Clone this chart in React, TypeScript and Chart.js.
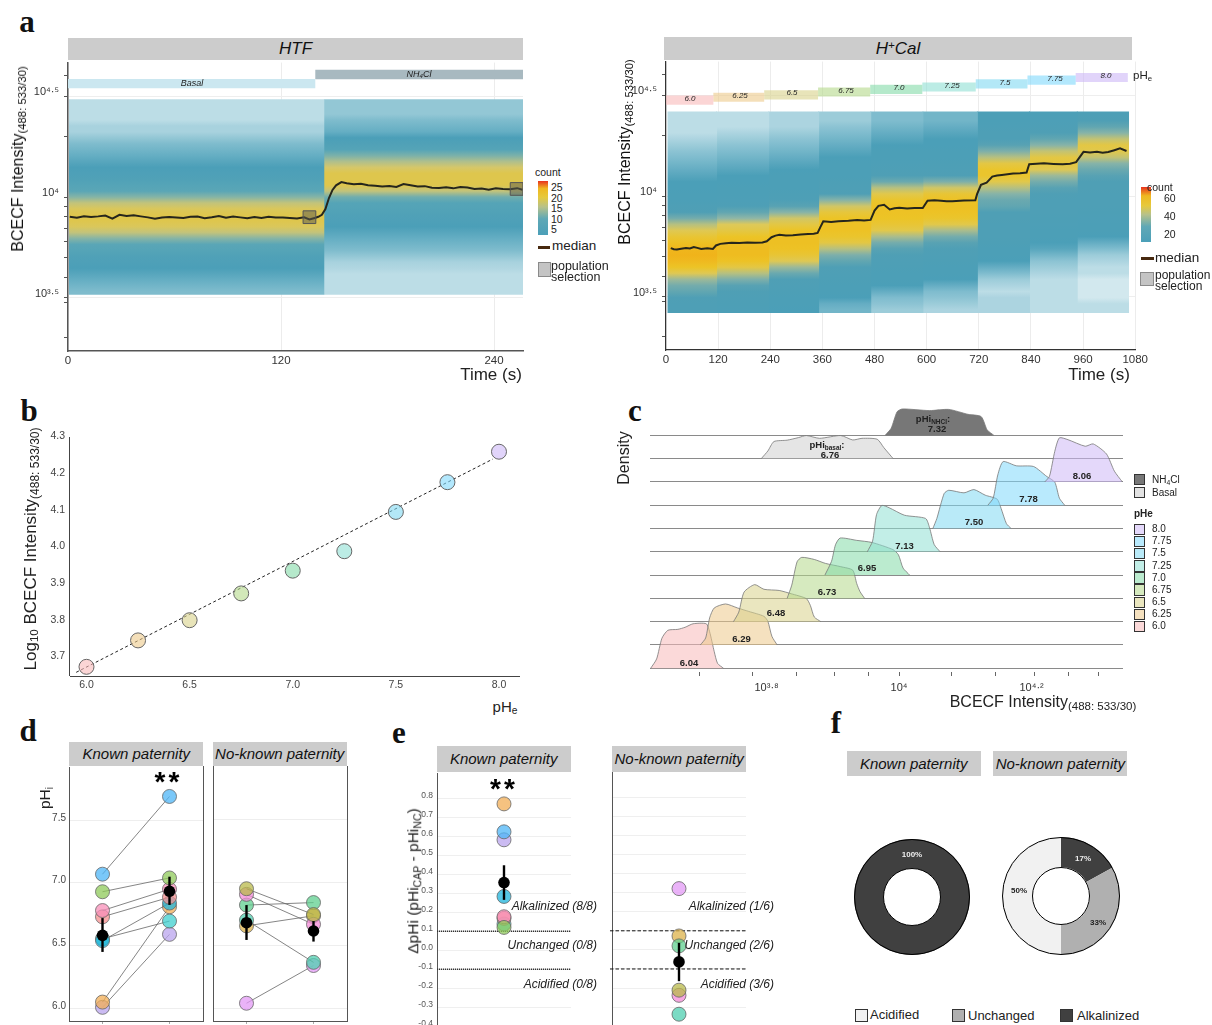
import React, { useEffect, useRef } from "react";
import { Chart, registerables } from "chart.js";

Chart.register(...registerables);

const SANS = '"Liberation Sans", Arial, sans-serif';

// ---------- panel a: HTF ----------
const htfColumnEdges = [0.5, 144, 256.3];
const htfBinRange = [3.515, 4.485];
const htfBasalCounts = [3, 3.5, 4, 4.5, 5, 5.5, 6, 7, 8, 10, 13, 15, 16, 16, 15, 13, 10, 8, 7, 6, 5.5, 5, 4.5, 4, 3.5, 3, 2.5, 2, 2, 1.5, 1.5, 1.5, 1.5];
const htfNh4clCounts = [1.5, 1.5, 1.5, 1.5, 1.8, 2, 2.5, 3, 3.5, 4, 4.5, 5, 5.5, 6, 6.5, 7, 9, 13, 16, 16, 16, 14, 12, 9.5, 7, 6, 5, 4, 3.5, 3, 2.5, 2.5, 2.5];
const htfMedianTimes = [1, 5, 9, 13, 17, 21, 25, 29, 33, 37, 41, 45, 49, 53, 57, 61, 65, 69, 73, 77, 81, 85, 89, 93, 97, 101, 105, 109, 113, 117, 121, 125, 129, 133, 136, 139, 141, 143, 145, 147, 149, 151, 154, 157, 161, 165, 169, 173, 177, 181, 185, 189, 193, 197, 201, 205, 209, 213, 217, 221, 225, 229, 233, 237, 241, 245, 249, 253, 256];
const htfMedianValues = [3.902, 3.897, 3.905, 3.901, 3.904, 3.908, 3.893, 3.912, 3.906, 3.909, 3.904, 3.899, 3.892, 3.898, 3.901, 3.899, 3.896, 3.902, 3.903, 3.895, 3.9, 3.906, 3.897, 3.903, 3.899, 3.895, 3.901, 3.896, 3.902, 3.898, 3.899, 3.896, 3.893, 3.899, 3.889, 3.896, 3.902, 3.912, 3.94, 3.995, 4.035, 4.058, 4.074, 4.068, 4.063, 4.066, 4.058, 4.056, 4.052, 4.055, 4.05, 4.064, 4.058, 4.052, 4.054, 4.046, 4.045, 4.048, 4.043, 4.05, 4.047, 4.04, 4.042, 4.036, 4.044, 4.04, 4.039, 4.044, 4.036];
const htfSelectionTimes = [136, 252.7];
const htfSelectionValues = [3.9, 4.04];

// ---------- panel a: H+Cal ----------
const calColumnEdges = [3, 115, 235, 350, 470, 590, 715, 835, 945, 1066];
const calBinRange = [3.42, 4.42];
const calCounts60 = [18, 20, 22, 24, 26, 30, 36, 42, 47, 50, 48, 44, 40, 36, 32, 26, 22, 18, 15, 13, 12, 11, 10, 9, 8, 7, 6, 5, 4, 3, 3, 3, 3];
const calCounts625 = [16, 17, 19, 21, 23, 27, 32, 38, 43, 46, 46, 45, 42, 38, 35, 29, 24, 19, 16, 14, 13, 12, 11, 10, 9, 8, 7, 6, 5, 4, 3, 3, 3];
const calCounts65 = [11, 13, 15, 17, 19, 21, 25, 30, 36, 40, 43, 44, 44, 42, 38, 34, 28, 23, 19, 17, 15, 14, 13, 12, 10, 9, 8, 7, 6, 5, 4, 4, 4];
const calCounts675 = [8, 9, 11, 13, 15, 17, 19, 21, 24, 27, 32, 38, 41, 43, 43, 42, 39, 34, 28, 22, 19, 17, 15, 14, 13, 12, 10, 9, 8, 7, 6, 5, 5];
const calCounts70 = [5, 6, 7, 9, 11, 13, 15, 17, 19, 21, 23, 26, 31, 37, 40, 42, 43, 43, 41, 37, 32, 25, 21, 18, 16, 14, 13, 11, 10, 9, 8, 7, 7];
const calCounts725 = [4, 5, 6, 7, 9, 11, 13, 15, 17, 19, 21, 23, 26, 31, 37, 41, 43, 44, 43, 40, 34, 27, 22, 19, 17, 15, 14, 12, 11, 10, 9, 8, 8];
const calCounts75 = [4, 4, 4, 3, 4, 5, 7, 9, 11, 13, 15, 17, 18, 19, 20, 21, 22, 24, 25, 28, 32, 37, 41, 41, 38, 32, 27, 23, 20, 18, 16, 14, 13];
const calCounts775 = [3, 3, 3, 3, 3, 3, 4, 5, 6, 8, 10, 12, 14, 15, 16, 17, 18, 19, 20, 21, 23, 26, 30, 36, 39, 38, 33, 28, 24, 21, 18, 16, 15];
const calCounts80 = [3, 3, 2, 2, 2, 2, 3, 3, 4, 5, 7, 9, 11, 13, 15, 16, 17, 18, 19, 20, 21, 22, 23, 25, 28, 33, 37, 38, 33, 28, 24, 21, 19];
const calMedianTimes = [11, 18, 25, 35, 46, 55, 64, 72, 81, 95, 108, 115, 125, 138, 151, 169, 187, 205, 222, 232, 243, 252, 261, 276, 292, 310, 327, 340, 349, 355, 362, 380, 397, 420, 440, 456, 471, 480, 489, 502, 515, 526, 537, 555, 572, 591, 602, 618, 633, 646, 659, 686, 712, 716, 725, 738, 751, 762, 773, 786, 799, 815, 830, 836, 853, 870, 892, 913, 930, 944, 961, 976, 992, 1005, 1018, 1032, 1045, 1060];
const calMedianValues = [3.742, 3.736, 3.735, 3.739, 3.743, 3.74, 3.747, 3.743, 3.738, 3.741, 3.738, 3.755, 3.763, 3.766, 3.768, 3.767, 3.77, 3.768, 3.77, 3.776, 3.796, 3.804, 3.808, 3.805, 3.806, 3.81, 3.812, 3.813, 3.817, 3.845, 3.875, 3.872, 3.875, 3.878, 3.882, 3.879, 3.882, 3.928, 3.952, 3.957, 3.934, 3.94, 3.942, 3.939, 3.941, 3.941, 3.977, 3.979, 3.977, 3.974, 3.975, 3.978, 3.98, 4.01, 4.056, 4.067, 4.097, 4.102, 4.105, 4.109, 4.112, 4.114, 4.117, 4.158, 4.161, 4.163, 4.16, 4.158, 4.161, 4.169, 4.22, 4.217, 4.22, 4.216, 4.219, 4.228, 4.237, 4.224];
const calPhLabels = ["6.0", "6.25", "6.5", "6.75", "7.0", "7.25", "7.5", "7.75", "8.0"];
const calStepStarts = [0, 109, 226, 350, 470, 590, 713, 832, 943];
const calStepEnds = [109, 226, 350, 470, 590, 713, 832, 943, 1063];
const calStepLevels = [4.477, 4.491, 4.503, 4.517, 4.53, 4.542, 4.557, 4.576, 4.589];

const phColors = ["#f8b9b9", "#ecc98a", "#d9d28a", "#b4d88a", "#84dba8", "#8fe0d3", "#80d9f2", "#80d8fb", "#cdb8f6"];

// ---------- panel b ----------
const calibrationPhe = [6, 6.25, 6.5, 6.75, 7, 7.25, 7.5, 7.75, 8];
const calibrationLog = [3.672, 3.744, 3.799, 3.872, 3.934, 3.987, 4.094, 4.175, 4.258];
const fitLinePhe = [5.95, 7.97];
const fitLineLog = [3.657, 4.238];

// ---------- panel c ----------
const ridgeNames = ["NH4Cl", "Basal", "8.0", "7.75", "7.5", "7.25", "7.0", "6.75", "6.5", "6.25", "6.0"];
const ridgeX = [
  [3.979, 3.988, 3.997, 4.005, 4.046, 4.075, 4.104, 4.124, 4.133, 4.143],
  [3.792, 3.802, 3.811, 3.831, 3.848, 3.86, 3.88, 3.912, 3.93, 3.944, 3.967, 3.977, 3.991],
  [4.22, 4.227, 4.235, 4.242, 4.255, 4.281, 4.293, 4.313, 4.325, 4.337],
  [4.134, 4.142, 4.149, 4.157, 4.177, 4.203, 4.223, 4.235, 4.242, 4.25],
  [4.051, 4.057, 4.068, 4.075, 4.098, 4.113, 4.13, 4.148, 4.154, 4.162, 4.169],
  [3.952, 3.96, 3.966, 3.974, 3.985, 4.008, 4.04, 4.046, 4.053, 4.062],
  [3.888, 3.898, 3.904, 3.911, 3.936, 3.959, 3.991, 3.999, 4.006, 4.016],
  [3.831, 3.838, 3.846, 3.853, 3.872, 3.889, 3.912, 3.93, 3.936, 3.941, 3.948],
  [3.75, 3.758, 3.766, 3.782, 3.796, 3.819, 3.837, 3.86, 3.866, 3.872, 3.882],
  [3.7, 3.708, 3.714, 3.721, 3.738, 3.756, 3.773, 3.796, 3.802, 3.808, 3.816],
  [3.625, 3.634, 3.642, 3.651, 3.666, 3.677, 3.689, 3.709, 3.714, 3.721, 3.726, 3.735],
];
const ridgeHeights = [
  [0, 0.3, 1.01, 1.13, 1.06, 1.11, 0.9, 0.8, 0.23, 0],
  [0, 0.33, 0.73, 0.79, 0.9, 0.99, 0.87, 0.99, 0.8, 0.87, 0.83, 0.47, 0],
  [0, 0.24, 1.31, 1.89, 1.81, 1.53, 1.63, 1.2, 0.46, 0],
  [0, 0.3, 1.3, 1.87, 1.69, 1.66, 1.23, 0.99, 0.3, 0],
  [0, 0.43, 1.5, 1.64, 1.53, 1.67, 1.43, 1.26, 0.86, 0.21, 0],
  [0, 0.46, 1.6, 1.99, 1.89, 1.57, 1.43, 1.03, 0.31, 0],
  [0, 0.59, 1.3, 1.59, 1.49, 1.4, 1.09, 0.87, 0.3, 0],
  [0, 0.57, 1.57, 1.76, 1.67, 1.5, 1.36, 1.21, 0.64, 0.29, 0],
  [0, 0.41, 1.27, 1.59, 1.39, 1.34, 1.2, 0.99, 0.7, 0.2, 0],
  [0, 0.3, 1.16, 1.59, 1.76, 1.59, 1.44, 1.23, 1.01, 0.37, 0],
  [0, 0.4, 1.29, 1.63, 1.67, 1.76, 1.91, 1.91, 1.57, 0.71, 0.21, 0],
];
const ridgeBaselines = [10, 9, 8, 7, 6, 5, 4, 3, 2, 1, 0];
const ridgeColors = ["#555555", "#cfcfcf", "#cdb8f6", "#80d8fb", "#80d9f2", "#8fe0d3", "#84dba8", "#b4d88a", "#d9d28a", "#ecc98a", "#f8b9b9"];
const ridgeTicks = [3.699, 3.778, 3.8, 3.845, 3.903, 3.954, 4, 4.079, 4.146, 4.2, 4.204, 4.255, 4.301];

// ---------- panels d, e ----------
const knownColors = ["#4db6f7", "#8fca5a", "#f88fb8", "#f78f8f", "#1eb4dc", "#3fcfcf", "#f2ad55", "#b9a4ee"];
const knownBefore = [7.07, 6.93, 6.78, 6.73, 6.54, 6.555, 6.05, 6.008];
const knownAfter = [7.69, 7.04, 6.95, 6.886, 6.84, 6.696, 6.81, 6.59];
const knownMeanD = [6.582, 6.934];
const knownErrLowD = [6.45, 6.825];
const knownErrHighD = [6.72, 7.05];
const unknownColors = ["#b8b84a", "#f48ad8", "#5fcf8f", "#4fcfb0", "#dcb24a", "#e39af5"];
const unknownBefore = [6.95, 6.905, 6.82, 6.7, 6.655, 6.04];
const unknownAfter = [6.745, 6.667, 6.84, 6.365, 6.735, 6.34];
const unknownMeanD = [6.68, 6.614];
const unknownErrLowD = [6.543, 6.53];
const unknownErrHighD = [6.82, 6.693];
const knownDelta = [0.623, 0.12, 0.176, 0.168, 0.283, 0.138, 0.77, 0.581];
const knownDeltaMean = 0.356;
const knownDeltaErr = [0.265, 0.447];
const unknownDelta = [-0.211, -0.238, 0.021, -0.337, 0.073, 0.321];
const unknownDeltaMean = -0.063;
const unknownDeltaErr = [-0.164, 0.037];
const deltaTicks = [-0.4, -0.3, -0.2, -0.1, 0, 0.1, 0.2, 0.3, 0.4, 0.5, 0.6, 0.7, 0.8];
const deltaThresholds = [0.1, -0.1];

// ---------- panel f ----------
const donutCategories = ["Alkalinized", "Unchanged", "Acidified"];
const donutColors = ["#404040", "#b0b0b0", "#f1f1f1"];
const knownShares = [100, 0, 0];
const unknownShares = [17, 33, 50];

// ---------- helpers ----------
type Stop = [number, string];
const htfRamp: Stop[] = [[0, "#ffffff"], [1.5, "#bcdde6"], [3, "#7fbccd"], [5, "#4b9fb8"], [8, "#5aa6b6"], [11, "#9bbb9e"], [14, "#d5c76a"], [17, "#e3c63e"], [22, "#efa91c"], [26, "#e8321e"]];
const calRamp: Stop[] = [[0, "#ffffff"], [3, "#bcdde6"], [6, "#8cc3d3"], [11, "#4b9fb8"], [22, "#4f9fb5"], [29, "#8fb6a6"], [35, "#ddc95a"], [42, "#ecc426"], [50, "#f0b31a"], [56, "#ef7d1c"], [63, "#e8321e"]];

function hexRgb(h: string) {
  return [1, 3, 5].map((i) => parseInt(h.slice(i, i + 2), 16));
}
function rampColor(stops: Stop[], v: number) {
  for (let i = 1; i < stops.length; i++) {
    if (v <= stops[i][0]) {
      const f = (v - stops[i - 1][0]) / (stops[i][0] - stops[i - 1][0]);
      const a = hexRgb(stops[i - 1][1]);
      const b = hexRgb(stops[i][1]);
      return `rgb(${a.map((c, k) => Math.round(c + (b[k] - c) * f)).join(",")})`;
    }
  }
  return stops[stops.length - 1][1];
}
function alpha(hex: string, a: number) {
  const [r, g, b] = hexRgb(hex);
  return `rgba(${r},${g},${b},${a})`;
}
// one filled column per regime; its colours follow the binned counts through the y scale
function heatDatasets(edges: number[], columns: number[][], range: number[], stops: Stop[], overlap: number) {
  return columns.map((col, c) => ({
    data: zip([edges[c], edges[c + 1] + (c < columns.length - 1 ? overlap : 0)], [range[1], range[1]]),
    borderColor: "rgba(0,0,0,0)",
    borderWidth: 0,
    pointRadius: 0,
    fill: { value: range[0] },
    backgroundColor: (ctx: any) => {
      const chart = ctx.chart;
      const sy = chart.scales?.y;
      if (!chart.chartArea || !sy) return rampColor(stops, col[0]);
      const g = chart.ctx.createLinearGradient(0, sy.getPixelForValue(range[0]), 0, sy.getPixelForValue(range[1]));
      col.forEach((count, i) => g.addColorStop((i + 0.5) / col.length, rampColor(stops, count)));
      return g;
    },
  }));
}
function zip(xs: number[], ys: number[]) {
  return xs.map((x, i) => ({ x, y: ys[i] }));
}
function thick(xs: number[], ys: number[], color: string, width: number) {
  return { data: zip(xs, ys), borderColor: color, borderWidth: width, borderCapStyle: "butt", pointRadius: 0 };
}
function axis(o: any) {
  return {
    type: "linear",
    position: o.position,
    min: o.min,
    max: o.max,
    afterBuildTicks: (s: any) => {
      s.ticks = (o.at || []).map((value: number) => ({ value }));
    },
    afterFit: (s: any) => {
      if (s.isHorizontal()) s.height = o.size;
      else s.width = o.size;
    },
    ticks: {
      display: o.labels !== false,
      autoSkip: false,
      maxRotation: 0,
      minRotation: 0,
      padding: o.pad ?? 3,
      labelOffset: o.labelOffset ?? 0,
      font: { family: SANS, size: o.font ?? 11 },
      color: o.color ?? "#444",
      callback: o.label ?? ((v: number) => String(v)),
    },
    grid: {
      display: true,
      color: o.grid ?? "#ececec",
      lineWidth: 1,
      drawOnChartArea: o.drawOnChartArea ?? true,
      drawTicks: (o.tickLen ?? 0) > 0,
      tickLength: o.tickLen ?? 0,
      tickColor: o.tickColor ?? "#555",
    },
    border: { display: o.border !== false, color: o.border || "#555", width: o.borderWidth ?? 1 },
  };
}
function baseOptions(x: any, y: any, margin: number[]) {
  return {
    responsive: false,
    animation: false,
    devicePixelRatio: 1,
    events: [],
    layout: { autoPadding: false, padding: { left: 0, top: margin[1], right: margin[2], bottom: 0 } },
    plugins: { legend: { display: false }, title: { display: false }, tooltip: { enabled: false } },
    scales: { x, y },
  };
}

function Panel({ plot, margin, build }: { plot: number[]; margin: number[]; build: () => any }) {
  const ref = useRef<HTMLCanvasElement>(null);
  const [x0, y0, x1, y1] = plot;
  const [l, t, r, b] = margin;
  const w = Math.round(x1 - x0 + l + r);
  const h = Math.round(y1 - y0 + t + b);
  useEffect(() => {
    const chart = new Chart(ref.current as HTMLCanvasElement, build());
    return () => chart.destroy();
  }, []);
  return <canvas ref={ref} width={w} height={h} style={{ position: "absolute", left: x0 - l, top: y0 - t, width: w, height: h, display: "block" }} />;
}

function Txt({ x, y, size = 11, rot, align = "c", italic, bold, color = "#222", font = SANS, children, spacing }: any) {
  const tx = align === "l" ? "0" : align === "r" ? "-100%" : "-50%";
  return (
    <div style={{ position: "absolute", left: x, top: y, transform: `translate(${tx},-50%)${rot ? ` rotate(${rot}deg)` : ""}`, fontFamily: font, fontSize: size, fontStyle: italic ? "italic" : "normal", fontWeight: bold ? 700 : 400, color, whiteSpace: "nowrap", lineHeight: 1, letterSpacing: spacing }}>
      {children}
    </div>
  );
}
function Sub({ size, children }: any) {
  return <span style={{ fontSize: size ?? "0.68em", verticalAlign: "-0.25em", lineHeight: 0 }}>{children}</span>;
}
function Sup({ children }: any) {
  return <span style={{ fontSize: "0.68em", verticalAlign: "0.45em", lineHeight: 0 }}>{children}</span>;
}
function Box({ x, y, w, h, bg, border, style }: any) {
  return <div style={{ position: "absolute", left: x, top: y, width: w, height: h, background: bg, border, boxSizing: "border-box", ...style }} />;
}
function Strip({ x0, x1, y0, y1, size = 15, children }: any) {
  return (
    <div style={{ position: "absolute", left: x0, top: y0, width: x1 - x0, height: y1 - y0, background: "#cccccc", display: "flex", alignItems: "center", justifyContent: "center", fontFamily: SANS, fontStyle: "italic", fontSize: size, color: "#111", whiteSpace: "nowrap" }}>
      <span>{children}</span>
    </div>
  );
}
function Letter({ x, y, children }: any) {
  return <Txt x={x} y={y} size={31} bold font='"Liberation Serif", serif' color="#111">{children}</Txt>;
}

const timelineYTicks = [4.602, 4.5, 4.301, 4, 3.954, 3.903, 3.845, 3.778, 3.699, 3.602, 3.5, 3.477, 3.301];
const near = (a: number, b: number) => Math.abs(a - b) < 1e-6;
const powerLabel = (v: number) => (near(v, 4.5) ? "10⁴·⁵" : near(v, 4) ? "10⁴" : near(v, 3.5) ? "10³·⁵" : "");
const majorGrid = (ctx: any) => {
  const v = ctx.tick?.value;
  return v !== undefined && (near(v, 4.5) || near(v, 4) || near(v, 3.5)) ? "#eeeeee" : "rgba(0,0,0,0)";
};

function buildHtf() {
  const margin = [60, 10, 12, 30];
  const datasets = [
    { data: zip(htfSelectionTimes, htfSelectionValues), showLine: false, pointStyle: "rect", pointRadius: 9, pointBackgroundColor: "rgba(90,90,80,0.5)", pointBorderColor: "#555", pointBorderWidth: 1 },
    { data: zip(htfMedianTimes, htfMedianValues), borderColor: "#26261c", borderWidth: 2, pointRadius: 0 },
    thick([0, 139.3], [4.563, 4.563], "#cbe7f0", 9.3),
    thick([139.3, 256.3], [4.608, 4.608], "#a8b9c0", 9.3),
    ...heatDatasets(htfColumnEdges, [htfBasalCounts, htfNh4clCounts], htfBinRange, htfRamp, 0.5),
  ];
  return {
    type: "line",
    data: { datasets },
    options: baseOptions(
      axis({ position: "bottom", min: 0, max: 256.3, at: [0, 120, 240], size: margin[3], pad: 3, border: "#555", borderWidth: 1.5, font: 11.5, color: "#333" }),
      axis({ position: "left", min: 3.236, max: 4.667, at: timelineYTicks, label: powerLabel, grid: majorGrid, size: margin[0], tickLen: 4, pad: 5, labelOffset: -4, border: "#555", borderWidth: 1.5, font: 11, color: "#333" }),
      margin
    ),
  };
}
function buildCal() {
  const margin = [50, 10, 12, 30];
  const datasets = [
    { data: zip(calMedianTimes, calMedianValues), borderColor: "#26261c", borderWidth: 2, pointRadius: 0 },
    ...calPhLabels.map((_, i) => thick([calStepStarts[i], calStepEnds[i]], [calStepLevels[i], calStepLevels[i]], alpha(phColors[i], 0.6), 9.2)),
    ...heatDatasets(calColumnEdges, [calCounts60, calCounts625, calCounts65, calCounts675, calCounts70, calCounts725, calCounts75, calCounts775, calCounts80], calBinRange, calRamp, 3),
  ];
  return {
    type: "line",
    data: { datasets },
    options: baseOptions(
      axis({ position: "bottom", min: 0, max: 1080, at: [0, 120, 240, 360, 480, 600, 720, 840, 960, 1080], size: margin[3], pad: 3, border: "#333", borderWidth: 1.2, font: 11.5, color: "#333" }),
      axis({ position: "left", min: 3.236, max: 4.668, at: timelineYTicks, label: powerLabel, grid: majorGrid, size: margin[0], tickLen: 4, pad: 5, labelOffset: -4, border: "#333", borderWidth: 1.2, font: 11, color: "#333" }),
      margin
    ),
  };
}
function buildCalibration() {
  const margin = [50, 6, 12, 20];
  return {
    type: "line",
    data: {
      datasets: [
        { data: zip(calibrationPhe, calibrationLog), showLine: false, pointRadius: 7.5, pointBackgroundColor: phColors.map((c) => alpha(c, 0.6)), pointBorderColor: "#666", pointBorderWidth: 1 },
        { data: zip(fitLinePhe, fitLineLog), borderColor: "#222", borderWidth: 1, borderDash: [3, 2.5], pointRadius: 0 },
      ],
    },
    options: baseOptions(
      axis({ position: "bottom", min: 5.92, max: 8.097, at: [6, 6.5, 7, 7.5, 8], label: (v: number) => v.toFixed(1), grid: "rgba(0,0,0,0)", size: margin[3], pad: 3, border: "#444", font: 10.5 }),
      axis({ position: "left", min: 3.647, max: 4.3, at: [3.7, 3.8, 3.9, 4, 4.1, 4.2, 4.3], label: (v: number) => v.toFixed(1), grid: "rgba(0,0,0,0)", size: margin[0], pad: 5, border: false, font: 10.5 }),
      margin
    ),
  };
}
function buildRidges() {
  const margin = [6, 4, 14, 24];
  const datasets = ridgeNames.map((_, i) => ({
    data: zip(ridgeX[i], ridgeHeights[i].map((h) => h + ridgeBaselines[i])),
    borderColor: "#777",
    borderWidth: 0.8,
    pointRadius: 0,
    tension: 0.22,
    fill: { value: ridgeBaselines[i] },
    backgroundColor: alpha(ridgeColors[i], i === 0 ? 0.8 : 0.55),
  }));
  return {
    type: "line",
    data: { datasets },
    options: baseOptions(
      axis({
        position: "bottom", min: 3.624, max: 4.338, at: ridgeTicks,
        label: (v: number) => (near(v, 3.8) ? "10³·⁸" : near(v, 4) ? "10⁴" : near(v, 4.2) ? "10⁴·²" : ""),
        grid: "rgba(0,0,0,0)", drawOnChartArea: false, border: false, tickLen: 4,
        tickColor: (ctx: any) => (near(ctx.tick?.value, 3.8) || near(ctx.tick?.value, 4.2) ? "rgba(0,0,0,0)" : "#666"),
        size: margin[3], pad: 5, font: 11, color: "#333",
      }),
      axis({ position: "left", min: -0.16, max: 11.3, at: [0, 1, 2, 3, 4, 5, 6, 7, 8, 9, 10], labels: false, grid: "#8a8a8a", border: false, size: margin[0] }),
      margin
    ),
  };
}
const pairedMarginLabelled = [30, 8, 4, 10];
const pairedMarginPlain = [4, 8, 4, 10];
function pairedBuilder(colors: string[], before: number[], after: number[], mean: number[], low: number[], high: number[], showLabels: boolean) {
  return () => {
    const margin = showLabels ? pairedMarginLabelled : pairedMarginPlain;
    const datasets = [
      { data: [{ x: 0, y: mean[0] }, { x: 1, y: mean[1] }], showLine: false, pointRadius: 5.8, pointBackgroundColor: "#000", pointBorderWidth: 0 },
      { data: [{ x: 0, y: low[0] }, { x: 0, y: high[0] }], borderColor: "#000", borderWidth: 2.4, pointRadius: 0 },
      { data: [{ x: 1, y: low[1] }, { x: 1, y: high[1] }], borderColor: "#000", borderWidth: 2.4, pointRadius: 0 },
      ...colors.map((c, i) => ({
        data: [{ x: 0, y: before[i] }, { x: 1, y: after[i] }],
        borderColor: "#666",
        borderWidth: 0.8,
        pointRadius: 7,
        pointBackgroundColor: alpha(c, 0.75),
        pointBorderColor: "#666",
        pointBorderWidth: 0.8,
      })),
    ];
    return {
      type: "line",
      data: { datasets },
      options: baseOptions(
        axis({ position: "bottom", min: -0.5, max: 1.5, at: [0, 1], labels: false, grid: "rgba(0,0,0,0)", border: "#555", tickLen: 3, tickColor: "#aaa", size: margin[3], pad: 0 }),
        axis({ position: "left", min: 5.899, max: 7.925, at: [6, 6.5, 7, 7.5], labels: showLabels, label: (v: number) => v.toFixed(1), grid: "#eeeeee", border: "#555", size: margin[0], pad: 3, labelOffset: -2.5, font: 10 }),
        margin
      ),
    };
  };
}
const deltaMarginLabelled = [30, 8, 4, 10];
const deltaMarginPlain = [8, 8, 4, 10];
function deltaBuilder(colors: string[], values: number[], mean: number, err: number[], showLabels: boolean, dash: number[], dashColor: string, dashWidth: number) {
  return () => {
    const margin = showLabels ? deltaMarginLabelled : deltaMarginPlain;
    const datasets = [
      { data: [{ x: 0, y: mean }], showLine: false, pointRadius: 5.8, pointBackgroundColor: "#000", pointBorderWidth: 0 },
      { data: [{ x: 0, y: err[0] }, { x: 0, y: err[1] }], borderColor: "#000", borderWidth: 2.4, pointRadius: 0 },
      ...values.map((v, i) => ({ data: [{ x: 0, y: v }], showLine: false, pointRadius: 7, pointBackgroundColor: alpha(colors[i], 0.75), pointBorderColor: "#666", pointBorderWidth: 0.8 })),
      ...deltaThresholds.map((t) => ({ data: [{ x: showLabels ? -1 : -1.03, y: t }, { x: 1, y: t }], clip: false, borderColor: dashColor, borderWidth: dashWidth, borderDash: dash, pointRadius: 0 })),
    ];
    return {
      type: "line",
      data: { datasets },
      options: baseOptions(
        axis({ position: "bottom", min: -1, max: 1, at: [], labels: false, grid: "rgba(0,0,0,0)", border: false, size: margin[3] }),
        axis({ position: "left", min: -0.404, max: 0.932, at: deltaTicks, labels: showLabels, label: (v: number) => v.toFixed(1), grid: "#efefef", border: "#555", size: margin[0], pad: 4, labelOffset: -2.5, font: 8.5, color: "#555" }),
        margin
      ),
    };
  };
}
function donutBuilder(shares: number[]) {
  return () => ({
    type: "doughnut",
    data: { labels: donutCategories, datasets: [{ data: shares, backgroundColor: donutColors, borderWidth: 0 }] },
    options: {
      responsive: false,
      animation: false,
      devicePixelRatio: 1,
      events: [],
      cutout: "49%",
      layout: { padding: 0 },
      plugins: { legend: { display: false }, tooltip: { enabled: false } },
    },
  });
}

function Title488({ x, y, size = 16, sub = 11.3, rot = -90 }: any) {
  return (
    <Txt x={x} y={y} size={size} rot={rot} color="#111">
      BCECF Intensity<Sub size={sub}>(488: 533/30)</Sub>
    </Txt>
  );
}
function ColorBar({ x, y, w, h, colors }: any) {
  return <Box x={x} y={y} w={w} h={h} bg={`linear-gradient(to top, ${colors})`} />;
}

const pct = { htf: "#4b9fb8 0%, #5fa8b6 30%, #b7c18a 52%, #e6c93c 70%, #efb820 86%, #e8321e 100%", cal: "#4b9fb8 0%, #5fa8b6 28%, #b7c18a 50%, #e6c93c 66%, #efb820 84%, #e8321e 100%" };
const ridgeLegend = ["8.0", "7.75", "7.5", "7.25", "7.0", "6.75", "6.5", "6.25", "6.0"];
const ridgeLegendColors = ["#cdb8f6", "#80d8fb", "#80d9f2", "#8fe0d3", "#84dba8", "#b4d88a", "#d9d28a", "#ecc98a", "#f8b9b9"];

export default function App() {
  return (
    <div style={{ position: "absolute", left: 0, top: 0, width: 1212, height: 1025, overflow: "hidden", background: "#fff" }}>
      <Letter x={27} y={21}>a</Letter>
      <Letter x={29} y={410}>b</Letter>
      <Letter x={635} y={410}>c</Letter>
      <Letter x={28} y={730}>d</Letter>
      <Letter x={399} y={732}>e</Letter>
      <Letter x={836} y={722}>f</Letter>

      {/* a: HTF */}
      <Panel plot={[68.3, 61, 523, 351]} margin={[60, 10, 12, 30]} build={buildHtf} />
      <Strip x0={68} x1={523} y0={38} y1={60} size={17}>HTF</Strip>
      <Title488 x={18} y={159} />
      <Txt x={491} y={374} size={17}>Time (s)</Txt>
      <Txt x={192} y={83} size={9} italic>Basal</Txt>
      <Txt x={419} y={73.5} size={9} italic>NH<Sub>4</Sub>Cl</Txt>
      <Txt x={535} y={172} size={10.5} align="l">count</Txt>
      <ColorBar x={538} y={181} w={10} h={54} colors={pct.htf} />
      {["25", "20", "15", "10", "5"].map((t, i) => (
        <Txt key={t} x={551} y={187 + i * 10.5} size={10.5} align="l">{t}</Txt>
      ))}
      <Box x={537.5} y={245.5} w={12.5} h={3} bg="#47290f" />
      <Txt x={552} y={246} size={13.5} align="l">median</Txt>
      <Box x={537.5} y={262} w={13} h={15} bg="#c4c4c4" border="1.5px solid #8a8a8a" />
      <Txt x={551} y={266} size={12.5} align="l">population</Txt>
      <Txt x={551} y={277} size={12.5} align="l">selection</Txt>

      {/* a: H+Cal */}
      <Panel plot={[666.4, 60, 1139.8, 350.3]} margin={[50, 10, 12, 30]} build={buildCal} />
      <Strip x0={664} x1={1132} y0={37} y1={60} size={17}>H<Sup>+</Sup>Cal</Strip>
      <Title488 x={625} y={152} />
      <Txt x={1099} y={374} size={17}>Time (s)</Txt>
      {calPhLabels.map((t, i) => (
        <Txt key={t} x={[690, 740, 792, 846, 899, 952, 1005, 1055, 1106][i]} y={[99, 96, 93, 90.5, 87.5, 85.5, 82.5, 78.5, 76][i]} size={8} italic>{t}</Txt>
      ))}
      <Txt x={1133} y={76} size={11.5} align="l">pH<Sub>e</Sub></Txt>
      <ColorBar x={1141} y={187} w={10} h={55} colors={pct.cal} />
      <Txt x={1147} y={187} size={10.5} align="l">count</Txt>
      {["60", "40", "20"].map((t, i) => (
        <Txt key={t} x={1164} y={198 + i * 18} size={10.5} align="l">{t}</Txt>
      ))}
      <Box x={1141} y={256.5} w={12.5} h={3} bg="#47290f" />
      <Txt x={1155} y={258} size={13.5} align="l">median</Txt>
      <Box x={1140} y={272} w={14} h={14} bg="#c4c4c4" border="1.5px solid #8a8a8a" />
      <Txt x={1155} y={275} size={12} align="l">population</Txt>
      <Txt x={1155} y={286} size={12} align="l">selection</Txt>

      {/* b */}
      <Panel plot={[69.6, 431, 519, 675.7]} margin={[50, 6, 12, 20]} build={buildCalibration} />
      <Box x={69} y={437} w={1} h={239} bg="#444" />
      <Txt x={30} y={549} size={17} rot={-90}>
        Log<Sub>10</Sub> BCECF Intensity<Sub size={12}>(488: 533/30)</Sub>
      </Txt>
      <Txt x={505} y={706} size={15}>pH<Sub>e</Sub></Txt>

      {/* c */}
      <Panel plot={[650, 405, 1123, 672]} margin={[6, 4, 14, 24]} build={buildRidges} />
      <Txt x={624} y={458} size={16} rot={-90}>Density</Txt>
      <Txt x={1043} y={702} size={16}>BCECF Intensity<Sub size={11.5}>(488: 533/30)</Sub></Txt>
      {[["6.04", 689, 662.5], ["6.29", 741.5, 639], ["6.48", 776, 613], ["6.73", 827, 592], ["6.95", 867, 568], ["7.13", 904.5, 546], ["7.50", 974, 522], ["7.78", 1028.5, 499], ["8.06", 1082, 476]].map(([t, x, y]: any) => (
        <Txt key={t} x={x} y={y} size={9.5} bold>{t}</Txt>
      ))}
      <Txt x={827} y={445} size={9.5} bold>pHi<Sub>basal</Sub>:</Txt>
      <Txt x={830} y={454.5} size={9.5} bold>6.76</Txt>
      <Txt x={933} y={419} size={9.5} bold>pHi<Sub>NHCl</Sub>:</Txt>
      <Txt x={937} y={428.5} size={9.5} bold>7.32</Txt>
      <Box x={1134} y={474} w={11} h={11} bg={alpha("#555555", 0.8)} border="1px solid #333" />
      <Box x={1134} y={487} w={11} h={11} bg={alpha("#cfcfcf", 0.6)} border="1px solid #333" />
      <Txt x={1152} y={480} size={10} align="l">NH<Sub>4</Sub>Cl</Txt>
      <Txt x={1152} y={492.5} size={10} align="l">Basal</Txt>
      <Txt x={1134} y={513.5} size={10} bold align="l">pHe</Txt>
      {ridgeLegend.map((t, i) => (
        <React.Fragment key={t}>
          <Box x={1134} y={523.5 + i * 12.17} w={11} h={11.5} bg={alpha(ridgeLegendColors[i], 0.55)} border="1px solid #333" />
          <Txt x={1152} y={529 + i * 12.17} size={10} align="l">{t}</Txt>
        </React.Fragment>
      ))}

      {/* d */}
      <Panel plot={[69.3, 765.7, 203.3, 1021]} margin={pairedMarginLabelled} build={pairedBuilder(knownColors, knownBefore, knownAfter, knownMeanD, knownErrLowD, knownErrHighD, true)} />
      <Panel plot={[212.7, 765.7, 346.7, 1021]} margin={pairedMarginPlain} build={pairedBuilder(unknownColors, unknownBefore, unknownAfter, unknownMeanD, unknownErrLowD, unknownErrHighD, false)} />
      <Box x={203} y={766} w={1} h={255} bg="#555" />
      <Box x={346.5} y={766} w={1} h={255} bg="#555" />
      <Strip x0={69.3} x1={203.3} y0={741.7} y1={765.7}>Known paternity</Strip>
      <Strip x0={212.7} x1={346.7} y0={741.7} y1={765.7}>No-known paternity</Strip>
      <Txt x={45} y={798} size={15.5} rot={-90}>pH<Sub>i</Sub></Txt>
      <Txt x={168.5} y={782} size={28} bold color="#000" spacing={3}>**</Txt>

      {/* e */}
      <Panel plot={[436.7, 771.7, 570.7, 1027]} margin={deltaMarginLabelled} build={deltaBuilder(knownColors, knownDelta, knownDeltaMean, knownDeltaErr, true, [1.2, 0.8], "#333", 1.5)} />
      <Panel plot={[612.3, 771.7, 746, 1027]} margin={deltaMarginPlain} build={deltaBuilder(unknownColors, unknownDelta, unknownDeltaMean, unknownDeltaErr, false, [3.5, 2], "#111", 1)} />
      <Strip x0={436.7} x1={570.7} y0={746} y1={771.7}>Known paternity</Strip>
      <Strip x0={612.3} x1={746} y0={746} y1={771.7}>No-known paternity</Strip>
      <Txt x={413} y={881} size={15.5} rot={-90}>ΔpHi (pHi<Sub>CAP</Sub> - pHi<Sub>NC</Sub>)</Txt>
      <Txt x={504} y={789} size={28} bold color="#000" spacing={3}>**</Txt>
      {[["Alkalinized (8/8)", 906], ["Unchanged (0/8)", 944.7], ["Acidified (0/8)", 984.3]].map(([t, y]: any) => (
        <Txt key={t} x={597} y={y} size={12} italic align="r">{t}</Txt>
      ))}
      {[["Alkalinized (1/6)", 906], ["Unchanged (2/6)", 944.7], ["Acidified (3/6)", 984.3]].map(([t, y]: any) => (
        <Txt key={t} x={774} y={y} size={12} italic align="r">{t}</Txt>
      ))}

      {/* f */}
      <Strip x0={846.7} x1={980.7} y0={751} y1={776.3}>Known paternity</Strip>
      <Strip x0={993.3} x1={1127.3} y0={751} y1={776.3}>No-known paternity</Strip>
      <Panel plot={[854, 839, 970, 955]} margin={[0, 0, 0, 0]} build={donutBuilder(knownShares)} />
      <Panel plot={[1002, 837, 1120, 955]} margin={[0, 0, 0, 0]} build={donutBuilder(unknownShares)} />
      <Box x={854} y={839} w={116} h={116} border="1px solid #000" style={{ borderRadius: "50%" }} />
      <Box x={883} y={868} w={58} h={58} border="1px solid #000" bg="#fff" style={{ borderRadius: "50%" }} />
      <Box x={1002} y={837} w={118} h={118} border="1px solid #000" style={{ borderRadius: "50%" }} />
      <Box x={1032} y={867} w={58} h={58} border="1px solid #000" bg="#fff" style={{ borderRadius: "50%" }} />
      <Txt x={912} y={855} size={8} bold color="#eee">100%</Txt>
      <Txt x={1083} y={859} size={8} bold color="#eee">17%</Txt>
      <Txt x={1098} y={923} size={8} bold color="#222">33%</Txt>
      <Txt x={1019} y={891} size={8} bold color="#222">50%</Txt>
      <Box x={855} y={1009} w={13} h={13} bg="#f1f1f1" border="1px solid #333" />
      <Txt x={870} y={1014} size={13} align="l">Acidified</Txt>
      <Box x={952} y={1009} w={13} h={13} bg="#b0b0b0" border="1px solid #333" />
      <Txt x={968} y={1014.5} size={13} align="l">Unchanged</Txt>
      <Box x={1060} y={1009} w={13} h={13} bg="#404040" border="1px solid #333" />
      <Txt x={1077} y={1014.5} size={13} align="l">Alkalinized</Txt>
    </div>
  );
}
